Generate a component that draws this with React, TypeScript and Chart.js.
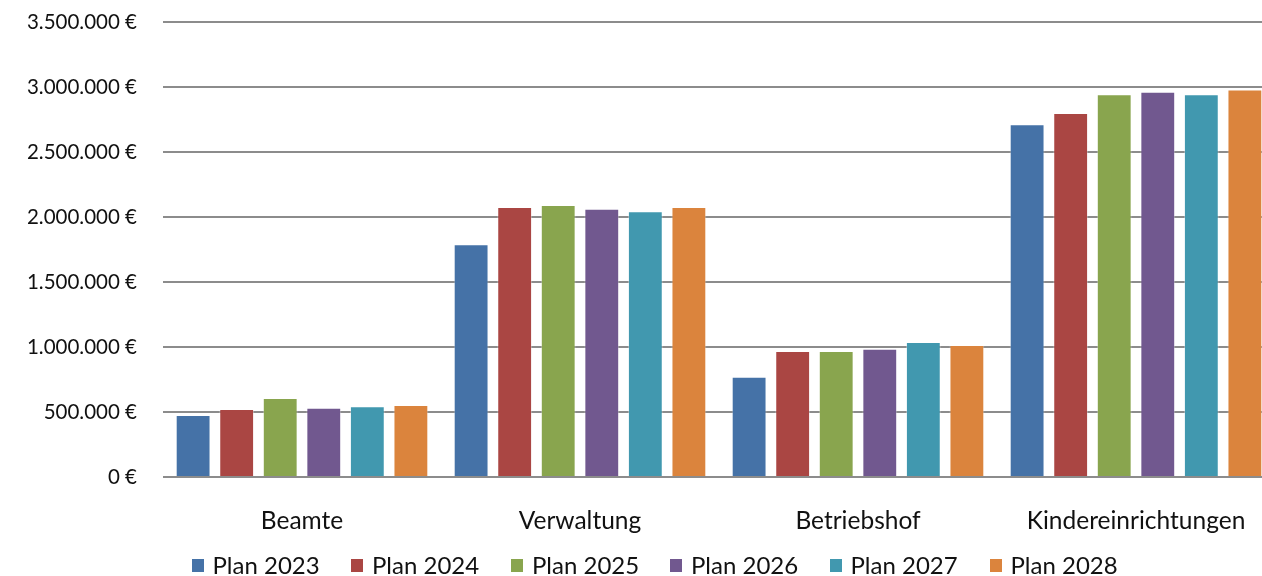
import React, { useEffect, useRef } from "react";
import { Chart, registerables } from "chart.js";

Chart.register(...registerables);

const categories = ["Beamte", "Verwaltung", "Betriebshof", "Kindereinrichtungen"];
const seriesNames = ["Plan 2023", "Plan 2024", "Plan 2025", "Plan 2026", "Plan 2027", "Plan 2028"];
const plan2023 = [477000, 1790000, 772000, 2713000];
const plan2024 = [523000, 2077000, 970000, 2800000];
const plan2025 = [608000, 2092000, 970000, 2944000];
const plan2026 = [533000, 2064000, 987000, 2964000];
const plan2027 = [544000, 2044000, 1038000, 2944000];
const plan2028 = [554000, 2077000, 1015000, 2980000];
const seriesColors = ["#4572A7", "#AA4643", "#89A54E", "#71588F", "#4198AF", "#DB843D"];
const yMax = 3500000;
const yStep = 500000;

const FONT = "Lato";
const TEXT = "#111";

function fmt(v: number): string {
  return String(Math.round(v)).replace(/\B(?=(\d{3})+(?!\d))/g, ".") + " €";
}

export default function App() {
  const ref = useRef<HTMLCanvasElement | null>(null);
  useEffect(() => {
    if (!ref.current) return;
    const values = [plan2023, plan2024, plan2025, plan2026, plan2027, plan2028];
    const chart = new Chart(ref.current, {
      type: "bar",
      data: {
        labels: categories,
        datasets: values.map((d, i) => ({
          label: seriesNames[i],
          data: d,
          backgroundColor: seriesColors[i],
          borderColor: "rgba(255,255,255,0.35)",
          borderWidth: 1,
          categoryPercentage: 0.94,
          barPercentage: 0.8,
        })),
      },
      options: {
        animation: false,
        responsive: false,
        devicePixelRatio: 1,
        layout: { padding: { left: 0, right: 0, top: 22, bottom: 39 } },
        plugins: {
          tooltip: { enabled: false },
          legend: { display: false },
        },
        scales: {
          x: {
            afterFit: (s: any) => {
              s.height = 60;
            },
            grid: { display: false },
            border: { display: false },
            ticks: { color: TEXT, font: { family: FONT, size: 24.5 }, padding: 21 },
          },
          y: {
            min: 0,
            max: yMax,
            afterFit: (s: any) => {
              s.width = 163;
              s.paddingTop = 0;
              s.paddingBottom = 0;
            },
            grid: { color: "#8c8c8c", lineWidth: 2, drawTicks: false },
            border: { display: false },
            ticks: {
              stepSize: yStep,
              padding: 26,
              color: TEXT,
              font: { family: FONT, size: 20.5 },
              callback: (v: any) => fmt(Number(v)),
            },
          },
        },
      },
    });
    return () => chart.destroy();
  }, []);
  const legendLeft = [191.5, 351, 511, 670, 829.5, 989.5];
  return (
    <div style={{ position: "fixed", left: 0, top: 0, width: 1262, height: 576, overflow: "hidden", background: "#fff" }}>
      <canvas ref={ref} width={1275} height={576} style={{ display: "block" }} />
      {seriesNames.map((n, i) => (
        <div
          key={n}
          style={{
            position: "absolute",
            left: legendLeft[i],
            top: 551,
            height: 28,
            display: "flex",
            alignItems: "center",
            whiteSpace: "nowrap",
          }}
        >
          <span style={{ display: "inline-block", width: 12, height: 13, background: seriesColors[i], marginRight: 9 }} />
          <span style={{ fontFamily: FONT, fontSize: 24, lineHeight: "28px", color: TEXT }}>{n}</span>
        </div>
      ))}
    </div>
  );
}
